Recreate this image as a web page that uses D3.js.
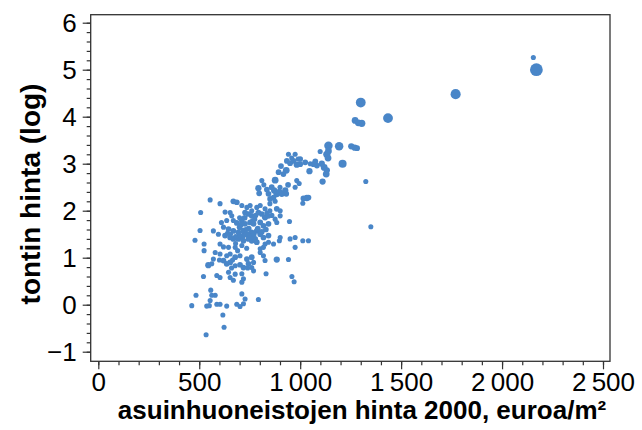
<!DOCTYPE html>
<html>
<head>
<meta charset="utf-8">
<script src="https://cdn.jsdelivr.net/npm/d3@7"></script>
<style>
  html, body { margin: 0; padding: 0; background: #fff; }
  svg { display: block; }
  text { font-family: "Liberation Sans", Arial, sans-serif; fill: #000; }
</style>
</head>
<body>
<svg id="chart" width="642" height="430"></svg>
<script>
// Asuinhuoneistojen hinta (euroa/m², 2000) ja tontin hinta (log) kunnittain
const hinta = [
  2170, 2155, 1770, 1435, 1300, 1272, 1288, 1305, 1253, 1270, 1282, 1193, 1140, 1140, 1132, 1138, 1099, 1210, 1325, 1350,
  942, 975, 934, 950, 967, 983, 1000, 1025, 1050, 1066, 1083, 1107, 1119, 1132, 1129, 893, 931, 917, 1111, 1046, 958, 990,
  876, 810, 793, 797, 983, 995, 975, 859, 871, 884, 897, 909, 926, 931, 843, 851, 868, 876, 1016, 1033, 1041, 1013, 554, 603, 669, 686, 820, 900,
  711, 736, 752, 785, 802, 826, 628, 653, 661, 727, 744, 760, 793, 810, 826, 843, 884, 901, 901, 507, 876, 884, 947, 636, 669, 686, 711, 727, 752, 769, 802, 818, 843, 700, 775, 835, 760,
  570, 620, 504, 645, 669, 694, 719, 736, 760, 785, 802, 818, 843, 628, 653, 669, 694, 719, 744, 760, 777, 785, 901, 897, 843, 826, 950, 975, 1013, 1041, 479, 524, 975, 868, 603, 620, 645, 678, 711, 802, 818, 524, 700, 680, 730, 640,
  579, 603, 636, 653, 678, 702, 736, 760, 769, 802, 818, 826, 884, 942, 570, 620, 636, 653, 678, 702, 719, 744, 760, 769, 545, 562, 521, 587, 603, 645, 653, 678, 669, 711, 719, 711, 831, 959, 970, 600, 665,
  557, 562, 554, 550, 537, 579, 587, 484, 463, 603, 636, 711, 727, 719, 686, 702, 793, 617, 623, 534,
  700, 715, 745, 755, 770, 790, 810, 830, 655, 680, 705, 725, 765, 780, 850, 860, 690, 735, 660, 740, 595, 610, 850, 940, 1000, 1075, 905, 835
];
const tontti = [
  5.00, 5.26, 4.48, 3.97, 4.30, 3.92, 3.87, 3.86, 3.37, 3.34, 3.33, 3.37, 3.38, 3.27, 3.20, 3.12, 3.26, 3.00, 2.62, 1.66,
  3.20, 3.20, 3.06, 3.01, 3.06, 2.98, 2.99, 3.03, 3.00, 2.99, 2.96, 3.00, 2.92, 2.86, 2.78, 2.82, 2.86, 2.78, 2.62, 2.84, 3.12, 3.10,
  2.65, 2.64, 2.48, 2.37, 2.64, 2.58, 2.50, 2.50, 2.43, 2.36, 2.40, 2.36, 2.43, 2.36, 2.36, 2.25, 2.28, 2.20, 2.26, 2.27, 2.28, 2.16, 2.23, 2.15, 2.20, 2.18, 2.55, 2.50,
  2.11, 2.07, 2.11, 2.07, 2.11, 2.04, 1.97, 1.96, 1.89, 1.96, 1.93, 1.89, 1.96, 1.93, 1.86, 1.89, 2.04, 2.00, 1.89, 1.96, 1.82, 1.75, 1.77, 1.79, 1.79, 1.74, 1.79, 1.72, 1.75, 1.72, 1.75, 1.68, 1.72, 1.85, 1.82, 1.95, 2.00,
  1.57, 1.65, 1.58, 1.61, 1.57, 1.54, 1.57, 1.50, 1.54, 1.57, 1.50, 1.43, 1.47, 1.47, 1.43, 1.40, 1.40, 1.36, 1.40, 1.36, 1.40, 1.33, 1.43, 1.36, 1.33, 1.29, 1.40, 1.43, 1.36, 1.36, 1.37, 1.29, 1.22, 1.29, 1.29, 1.23, 1.22, 1.22, 1.26, 1.19, 1.22, 1.15, 1.48, 1.30, 1.60, 1.52,
  1.11, 1.08, 1.04, 1.08, 1.01, 1.04, 0.97, 1.01, 0.90, 1.11, 1.04, 0.94, 0.96, 0.96, 0.97, 0.94, 0.87, 0.90, 0.83, 0.85, 0.79, 0.87, 0.79, 0.72, 0.84, 0.87, 0.60, 0.62, 0.58, 0.69, 0.58, 0.65, 0.52, 0.66, 0.55, 0.48, 0.66, 0.60, 0.49, 0.95, 0.95,
  0.31, 0.20, 0.09, -0.02, -0.03, 0.20, 0.01, 0.20, -0.02, 0.01, -0.03, 0.23, 0.12, 0.02, 0.01, -0.04, 0.11, -0.22, -0.48, -0.64,
  1.65, 1.45, 1.62, 1.45, 1.50, 1.62, 1.55, 1.60, 1.50, 1.45, 1.70, 1.85, 1.78, 1.90, 2.00, 1.90, 1.15, 1.20, 0.78, 0.78, 1.50, 1.75, 2.15, 2.55, 3.10, 3.05, 2.95, 2.45
];
// Pisteen paino (esim. asukasluku, suhteellinen)
const paino = [
  25, 3, 15, 14, 14, 6, 6, 7, 5, 5, 4, 10, 10, 6, 7, 6, 3, 9, 3, 3,
  3, 3, 4, 4, 4, 5, 4, 4, 3, 4, 4, 5, 6, 5, 6, 4, 6, 4, 5, 5, 3, 3,
  6, 3, 5, 4, 3, 3, 3, 4, 5, 6, 5, 5, 5, 4, 4, 4, 4, 3, 4, 5, 4, 3, 3, 3, 4, 4, 3, 3,
  3, 3, 3, 3, 3, 3, 3, 3, 3, 4, 4, 4, 4, 4, 5, 4, 4, 3, 3, 3, 3, 3, 3, 3, 3, 4, 4, 4, 4, 4, 4, 4, 4, 3, 3, 3, 3,
  3, 3, 3, 4, 4, 4, 5, 5, 4, 4, 4, 4, 4, 4, 4, 4, 4, 4, 4, 4, 4, 4, 3, 3, 3, 3, 3, 3, 3, 3, 3, 3, 3, 3, 3, 3, 3, 3, 3, 3, 3, 3, 3, 3, 3, 3,
  3, 3, 3, 3, 4, 3, 4, 4, 3, 3, 3, 3, 5, 3, 3, 4, 4, 4, 3, 4, 4, 4, 3, 3, 5, 3, 3, 3, 3, 3, 3, 3, 3, 3, 3, 3, 3, 3, 3, 3, 3,
  3, 3, 3, 3, 3, 3, 3, 3, 3, 3, 3, 3, 3, 3, 3, 3, 3, 3, 3, 3,
  4, 4, 4, 4, 4, 4, 4, 4, 3, 3, 4, 4, 4, 3, 3, 3, 3, 3, 3, 3, 3, 3, 3, 4, 4, 4, 4, 4
];
const xTicks = [0, 500, 1000, 1500, 2000, 2500];
const yTicks = [-1, 0, 1, 2, 3, 4, 5, 6];
const xTitle = "asuinhuoneistojen hinta 2000, euroa/m²";
const yTitle = "tontin hinta (log)";

const frame = { left: 90.7, right: 610, top: 14.7, bottom: 361.3 };
const svg = d3.select("#chart");

const x = d3.scaleLinear().domain([0, 2500]).range([98.3, 603]);
const y = d3.scaleLinear().domain([-1, 6]).range([351.7, 22.7]);
const r = d3.scaleSqrt().domain([0, 25]).range([0.5, 6.4]);

const fmt = v => d3.format(",")(v).replace(",", "\u2009").replace("-", "\u2212");

// pehmeä reuna pisteille
const defs = svg.append("defs");
defs.append("filter").attr("id", "soft")
  .append("feGaussianBlur").attr("stdDeviation", 0.4);

// pisteet
const pts = d3.range(hinta.length).map(i => ({ x: hinta[i], y: tontti[i], w: paino[i] }))
  .sort((a, b) => b.w - a.w);
svg.append("g").attr("filter", "url(#soft)")
  .selectAll("circle").data(pts).join("circle")
  .attr("cx", d => x(d.x))
  .attr("cy", d => y(d.y))
  .attr("r", d => r(d.w))
  .attr("fill", "#4a86c8");

// kehys
svg.append("rect")
  .attr("x", frame.left).attr("y", frame.top)
  .attr("width", frame.right - frame.left).attr("height", frame.bottom - frame.top)
  .attr("fill", "none").attr("stroke", "#333").attr("stroke-width", 1.3);

// x-akseli
const gxMinor = svg.append("g").attr("transform", `translate(0,${frame.bottom})`)
  .call(d3.axisBottom(x).tickValues(d3.range(0, 2501, 100)).tickSize(4).tickFormat(""));
const gx = svg.append("g").attr("transform", `translate(0,${frame.bottom})`)
  .call(d3.axisBottom(x).tickValues(xTicks).tickSize(8).tickPadding(3).tickFormat(fmt));
[gxMinor, gx].forEach(g => {
  g.select(".domain").remove();
  g.selectAll("line").attr("stroke", "#333").attr("stroke-width", 1.2);
});
gx.selectAll("text").attr("font-size", 26).attr("fill", "#000");

// y-akseli
const gyMinor = svg.append("g").attr("transform", `translate(${frame.left},0)`)
  .call(d3.axisLeft(y).tickValues(d3.range(-5, 31).map(v => v / 5)).tickSize(4).tickFormat(""));
const gy = svg.append("g").attr("transform", `translate(${frame.left},0)`)
  .call(d3.axisLeft(y).tickValues(yTicks).tickSize(8).tickPadding(6).tickFormat(fmt));
[gyMinor, gy].forEach(g => {
  g.select(".domain").remove();
  g.selectAll("line").attr("stroke", "#333").attr("stroke-width", 1.2);
});
gy.selectAll("text").attr("font-size", 26).attr("fill", "#000");

// akselien otsikot
svg.append("text")
  .attr("x", 362).attr("y", 419)
  .attr("text-anchor", "middle")
  .attr("font-size", 26).attr("font-weight", "bold")
  .text(xTitle);
svg.append("text")
  .attr("transform", "translate(40,194) rotate(-90)")
  .attr("text-anchor", "middle")
  .attr("font-size", 28).attr("font-weight", "bold")
  .text(yTitle);
</script>
</body>
</html>
